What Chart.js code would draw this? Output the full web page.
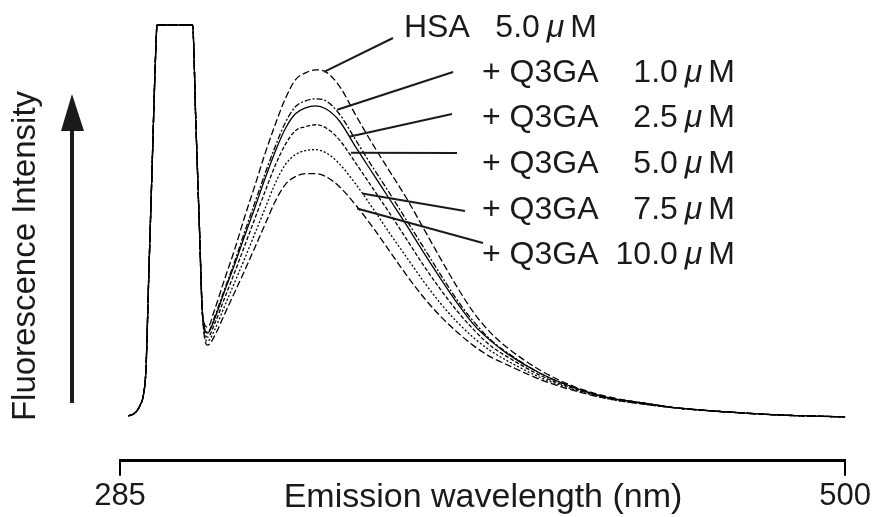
<!DOCTYPE html>
<html>
<head>
<meta charset="utf-8">
<script src="https://cdn.jsdelivr.net/npm/chart.js@4.4.1/dist/chart.umd.min.js"></script>
<style>
  html, body { margin: 0; padding: 0; background: #fff; }
  canvas { display: block; }
</style>
</head>
<body>
<canvas id="chart" width="873" height="517"></canvas>
<script>
// Rayleigh scatter peak, shared by all spectra (clipped at detector max)
var scatterNm    = [287.5, 289, 290, 291, 292, 292.7, 293.5, 294.5, 295.5, 296, 306.5, 307.5, 308.5, 309.5];
var scatterLevel = [45, 47, 50, 56, 67, 92, 182, 292, 402, 437, 437, 338, 239, 145];

// protein emission part
var emissionNm = [311, 313, 316, 319, 322, 325, 328, 331, 334, 337, 340, 343, 346, 350, 355, 360,
                  365, 370, 375, 380, 385, 390, 395, 400, 410, 420, 430, 440, 450, 465, 480, 500];
var hsa     = [134, 151, 182, 212, 245, 276, 308, 337, 363, 382, 389, 392, 390, 376, 346, 317,
               290, 263, 233, 203, 174, 148, 128, 113, 90, 74, 64, 58, 53, 49, 46, 44];
var q3ga1   = [129, 144, 172, 200, 230, 259, 288, 315, 339, 355, 361, 363, 361, 348, 321, 294,
               268, 241, 214, 187, 161, 139, 121, 108, 87, 73, 63, 58, 53, 49, 46, 44];
var q3ga2_5 = [128, 142, 170, 197, 226, 254, 283, 310, 333, 348, 354, 356, 353, 341, 314, 288,
               262, 236, 209, 183, 158, 136, 120, 107, 87, 73, 63, 58, 53, 49, 46, 44];
var q3ga5   = [124, 137, 163, 189, 216, 243, 270, 296, 317, 331, 335, 337, 334, 322, 298, 273,
               248, 222, 196, 172, 150, 131, 115, 104, 85, 72, 63, 57, 53, 49, 46, 44];
var q3ga7_5 = [120, 131, 155, 179, 203, 228, 253, 278, 297, 307, 311, 312, 309, 298, 277, 253,
               228, 204, 180, 158, 139, 123, 110, 100, 83, 71, 62, 57, 53, 49, 46, 44];
var q3ga10  = [116, 125, 147, 169, 191, 214, 237, 260, 277, 285, 288, 288, 285, 275, 256, 234,
               210, 186, 164, 145, 129, 115, 104, 96, 81, 70, 62, 57, 53, 49, 46, 44];

var xTicks = [285, 500];

var seriesNames = ['HSA  5.0', '+ Q3GA 1.0', '+ Q3GA 2.5', '+ Q3GA 5.0', '+ Q3GA 7.5', '+ Q3GA 10.0'];
var seriesValues = [hsa, q3ga1, q3ga2_5, q3ga5, q3ga7_5, q3ga10];
var seriesDash = [[7, 3], [6, 2, 2, 2], [], [4, 2], [2, 2], [7, 3]];

// label rows: prefix, concentration, leader anchor on curve [nm, intensity]
var labelPrefix = ['HSA', '+ Q3GA', '+ Q3GA', '+ Q3GA', '+ Q3GA', '+ Q3GA'];
var labelConc   = ['5.0', '1.0', '2.5', '5.0', '7.5', '10.0'];
var leaderAt    = [[345.5, 390], [349.4, 352], [352.9, 325], [353.5, 309], [356.8, 268], [355.3, 253]];

function spectrum(values) {
  var pts = [];
  scatterNm.forEach(function(x, i) { pts.push({x: x, y: scatterLevel[i]}); });
  emissionNm.forEach(function(x, i) { pts.push({x: x, y: values[i]}); });
  return pts;
}

var FONT = '"Liberation Sans", Arial, Helvetica, sans-serif';

var annotations = {
  id: 'annotations',
  afterDraw: function(chart) {
    var ctx = chart.ctx;
    var xs = chart.scales.x, ys = chart.scales.y;
    ctx.save();
    ctx.fillStyle = '#1a1a1a';
    ctx.strokeStyle = '#1a1a1a';

    // leader lines
    var ends = [[393, 38], [453, 72], [452, 114], [457, 153], [465, 211], [483, 243]];
    ctx.lineWidth = 2;
    leaderAt.forEach(function(a, i) {
      ctx.beginPath();
      ctx.moveTo(xs.getPixelForValue(a[0]), ys.getPixelForValue(a[1]));
      ctx.lineTo(ends[i][0], ends[i][1]);
      ctx.stroke();
    });

    // labels
    ctx.textBaseline = 'middle';
    var rowY = [28, 73, 118, 164, 210, 255];
    labelPrefix.forEach(function(p, i) {
      ctx.font = '32px ' + FONT;
      ctx.textAlign = 'left';
      var left = i === 0 ? 404 : 482;
      ctx.fillText(p, left, rowY[i]);
      var right = i === 0 ? 597 : 735;
      ctx.textAlign = 'right';
      ctx.fillText('M', right, rowY[i]);
      right -= ctx.measureText('M').width + 6;
      ctx.font = 'italic 32px ' + FONT;
      ctx.fillText('\u03bc', right, rowY[i]);
      right -= ctx.measureText('\u03bc').width + 7;
      ctx.font = '32px ' + FONT;
      ctx.fillText(labelConc[i], right, rowY[i]);
    });

    // y arrow
    ctx.lineWidth = 4;
    ctx.beginPath();
    ctx.moveTo(72, 403);
    ctx.lineTo(72, 126);
    ctx.stroke();
    ctx.beginPath();
    ctx.moveTo(72, 94);
    ctx.lineTo(61, 131);
    ctx.lineTo(84, 131);
    ctx.closePath();
    ctx.fill();

    // axis titles
    ctx.font = '34px ' + FONT;
    ctx.textAlign = 'center';
    ctx.fillText('Emission wavelength (nm)', 483, 498);
    ctx.font = '33px ' + FONT;
    ctx.translate(26, 256);
    ctx.rotate(-Math.PI / 2);
    ctx.fillText('Fluorescence Intensity', 0, 0);
    ctx.restore();
  }
};

new Chart(document.getElementById('chart'), {
  type: 'line',
  data: {
    datasets: seriesValues.map(function(v, i) {
      return {
        label: seriesNames[i],
        data: spectrum(v),
        borderColor: '#000',
        borderWidth: 1.3,
        borderDash: seriesDash[i],
        pointRadius: 0,
        fill: false,
        cubicInterpolationMode: 'monotone',
        clip: false
      };
    })
  },
  options: {
    responsive: false,
    animation: false,
    layout: { padding: { left: 120, right: 25, top: 25, bottom: 0 } },
    plugins: { legend: { display: false }, tooltip: { enabled: false } },
    scales: {
      x: {
        type: 'linear',
        min: 285,
        max: 500,
        afterBuildTicks: function(scale) {
          scale.ticks = xTicks.map(function(v) { return { value: v }; });
        },
        ticks: {
          color: '#1a1a1a',
          font: { family: FONT, size: 31 },
          padding: 2,
          maxRotation: 0,
          autoSkip: false
        },
        grid: {
          drawOnChartArea: false,
          drawTicks: true,
          tickLength: 15,
          color: '#000',
          lineWidth: 2
        },
        border: { display: true, color: '#000', width: 3 }
      },
      y: {
        display: false,
        min: 0,
        max: 437
      }
    }
  },
  plugins: [annotations]
});
</script>
</body>
</html>
